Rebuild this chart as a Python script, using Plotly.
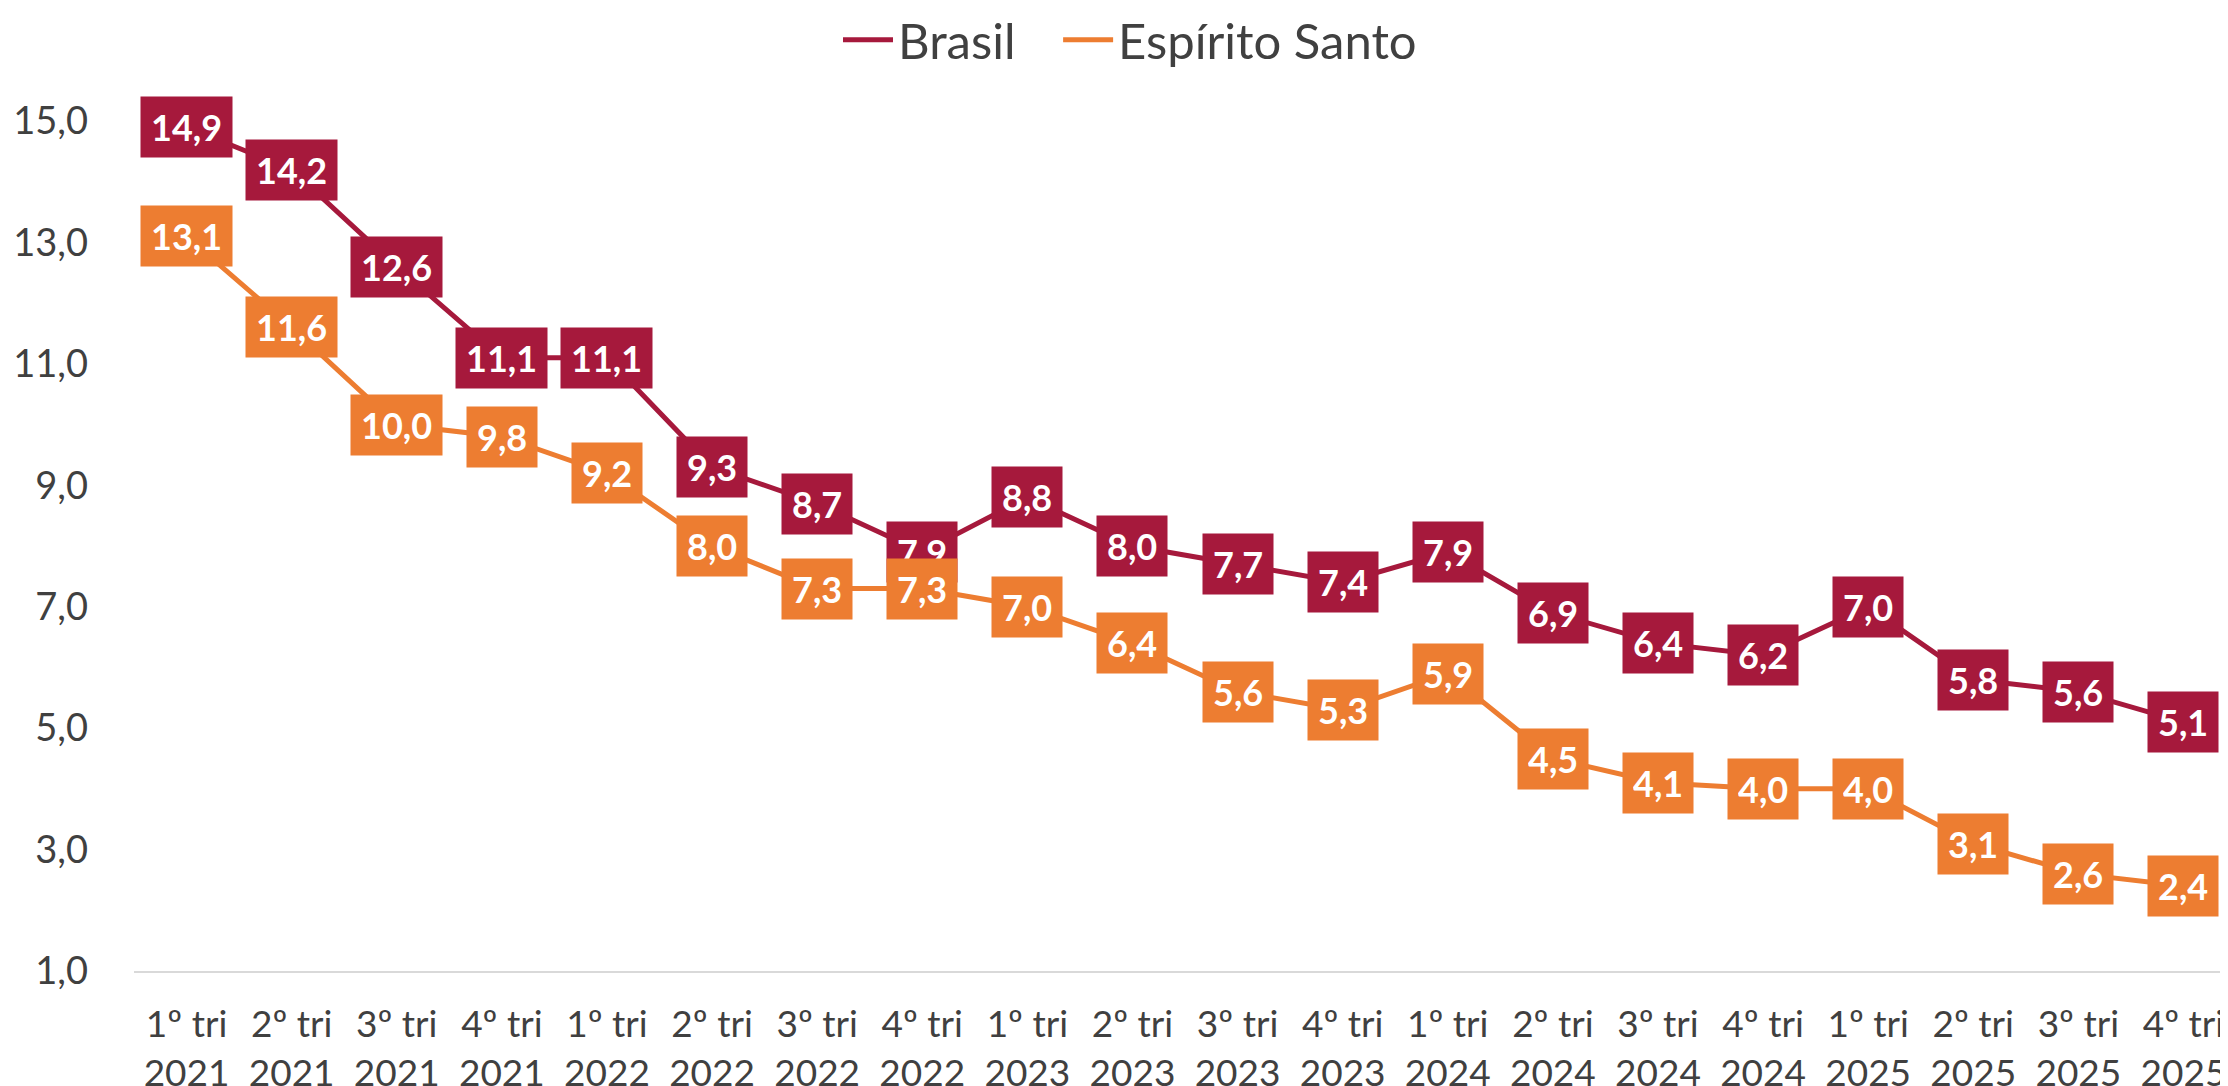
import plotly.graph_objects as go

# Taxa de desocupação (%) por trimestre
trimestres = ['1º tri', '2º tri', '3º tri', '4º tri']
anos = ['2021', '2022', '2023', '2024', '2025']
periodos = [f'{t}<br>{a}' for a in anos for t in trimestres]

brasil = [14.9, 14.2, 12.6, 11.1, 11.1, 9.3, 8.7, 7.9, 8.8, 8.0,
          7.7, 7.4, 7.9, 6.9, 6.4, 6.2, 7.0, 5.8, 5.6, 5.1]
espirito_santo = [13.1, 11.6, 10.0, 9.8, 9.2, 8.0, 7.3, 7.3, 7.0, 6.4,
                  5.6, 5.3, 5.9, 4.5, 4.1, 4.0, 4.0, 3.1, 2.6, 2.4]

y_ticks = [1, 3, 5, 7, 9, 11, 13, 15]

cor_brasil = '#A6193C'
cor_es = '#ED7D31'
cinza = '#404040'
fonte = 'Lato'

fig = go.Figure()
# espaços não separáveis no nome para afastar os itens da legenda
fig.add_trace(go.Scatter(x=periodos, y=brasil, mode='lines', name='Brasil\u00a0\u00a0\u00a0',
                         line=dict(color=cor_brasil, width=5), hoverinfo='skip'))
fig.add_trace(go.Scatter(x=periodos, y=espirito_santo, mode='lines', name='Espírito Santo',
                         line=dict(color=cor_es, width=5), hoverinfo='skip'))

# rótulos de dados em caixas coloridas
annotations = []
for serie, cor in [(brasil, cor_brasil), (espirito_santo, cor_es)]:
    for p, v in zip(periodos, serie):
        annotations.append(dict(
            x=p, y=v, xref='x', yref='y',
            text=f'{v:.1f}'.replace('.', ','),
            showarrow=False, bgcolor=cor, borderpad=10, height=40,
            font=dict(family=fonte, size=36, color='white', weight='bold'),
        ))

fig.update_layout(
    width=2228, height=1086,
    margin=dict(l=126, r=0, t=113, b=123, autoexpand=False),
    plot_bgcolor='white', paper_bgcolor='white',
    font=dict(family=fonte, size=38, color=cinza),
    separators=',.',
    annotations=annotations,
    showlegend=True,
    legend=dict(orientation='h', x=830 / 2228, xanchor='left', xref='container',
                y=1 - 32 / 1086, yanchor='middle', yref='container',
                font=dict(size=49, color=cinza), itemwidth=50),
)
fig.update_xaxes(showgrid=False, showline=True, linecolor='#D9D9D9', linewidth=2,
                 ticks='', ticklabelstandoff=20, range=[-0.5, 19.5], automargin=False,
                 tickfont=dict(size=37, color=cinza))
fig.update_yaxes(showgrid=False, zeroline=False, showline=False, range=[1, 15],
                 tickvals=y_ticks, tickformat='.1f', ticklabelstandoff=45, automargin=False,
                 tickfont=dict(size=38, color=cinza))

fig.write_html('out.html')
